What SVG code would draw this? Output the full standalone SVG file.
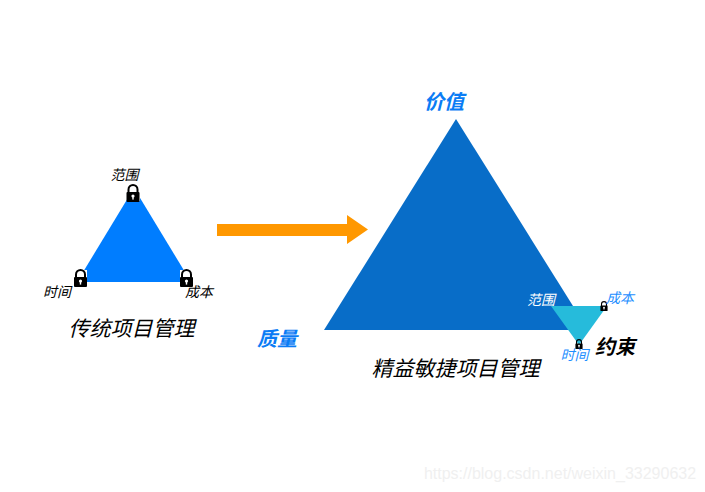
<svg xmlns="http://www.w3.org/2000/svg" width="705" height="492" viewBox="0 0 705 492">
<style>
text{font-family:"Noto Sans CJK SC","Noto Sans",sans-serif;font-style:italic;text-anchor:middle}
.t{font-size:21px;fill:#000}
.s{font-size:14px;fill:#000}
.b{font-size:20px;font-weight:700;fill:#0a7cf5}
.sb{font-size:14px;fill:#1f8fff}
.w{font-size:14px;fill:#fff}
.bg{fill:#fff}
</style>
<defs>
<g id="lock">
<path d="M-4.500 0v-3.500a4.500 4.500 0 0 1 9 0V0" fill="none" stroke="#000" stroke-width="2"/>
<rect x="-6.500" y="-1" width="13" height="10" rx="1" fill="#000"/>
<circle cx="0" cy="3" r="1.600" fill="#fff"/><rect x="-.7" y="3" width="1.400" height="3.600" fill="#fff"/>
</g>
</defs>
<rect width="705" height="492" fill="#fff"/>
<g id="traditional">
<polygon points="134,188 191,282 77,282" fill="#007dff"/>
<rect class="bg" x="180" y="270" width="13" height="13"/>
<rect class="bg" x="74" y="270" width="13" height="13"/>
<rect class="bg" x="127" y="184" width="13" height="17"/>
<use href="#lock" transform="translate(133,193)"/>
<use href="#lock" transform="translate(80.500,278)"/>
<use href="#lock" transform="translate(186.500,278)"/>
<text class="s" x="124.500" y="180">范围</text>
<text class="s" x="57" y="297">时间</text>
<text class="s" x="199" y="297">成本</text>
<text class="t" x="131.500" y="336">传统项目管理</text>
</g>
<g id="connectors">
<polygon points="217,224 347,224 347,215 368,229.500 347,244 347,236 217,236" fill="#ff9800"/>
</g>
<g id="lean">
<polygon points="456,119 588,330 324,330" fill="#086dc8"/>
<text class="b" x="444" y="108.500">价值</text>
<text class="b" x="277" y="346">质量</text>
<text class="t" x="455.500" y="376">精益敏捷项目管理</text>
</g>
<g id="constraint">
<polygon points="551,306 607,306 579,345" fill="#26bbdb"/>
<use href="#lock" transform="translate(604,306) scale(.55)"/>
<use href="#lock" transform="translate(579,344) scale(.55)"/>
<text class="w" x="541" y="305">范围</text>
<text class="sb" x="620" y="303">成本</text>
<text class="sb" x="574.500" y="360">时间</text>
<text class="b" x="615" y="354" style="fill:#000">约束</text>
</g>
<text x="560" y="479" style="font-family:'Liberation Sans',sans-serif;font-style:normal;font-size:16px;fill:#f0f0f0">https://blog.csdn.net/weixin_33290632</text>
</svg>
